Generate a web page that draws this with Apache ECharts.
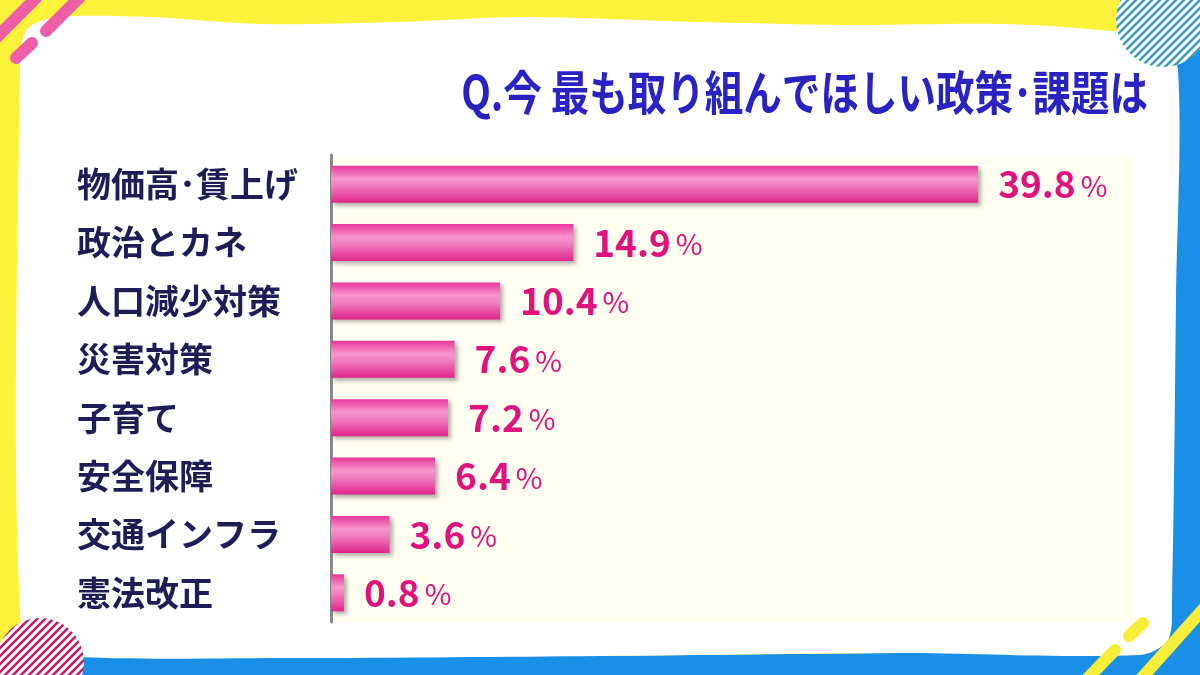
<!DOCTYPE html>
<html>
<head>
<meta charset="utf-8">
<script src="https://cdn.jsdelivr.net/npm/echarts@6/dist/echarts.min.js"></script>
<style>
html,body{margin:0;padding:0;background:#fff;}
#chart{width:1200px;height:675px;}
</style>
</head>
<body>
<div id="chart"></div>
<script>
const categories = ['物価高･賃上げ','政治とカネ','人口減少対策','災害対策','子育て','安全保障','交通インフラ','憲法改正'];
const values = [39.8, 14.9, 10.4, 7.6, 7.2, 6.4, 3.6, 0.8];
const titleText = 'Q.今 最も取り組んでほしい政策･課題は';

function stripePattern(color, bg) {
  const c = document.createElement('canvas');
  c.width = 8; c.height = 8;
  const g = c.getContext('2d');
  g.fillStyle = bg; g.fillRect(0,0,8,8);
  g.strokeStyle = color; g.lineWidth = 2.6;
  g.beginPath();
  g.moveTo(-2,10); g.lineTo(10,-2);
  g.moveTo(-2,2); g.lineTo(2,-2);
  g.moveTo(6,10); g.lineTo(10,6);
  g.stroke();
  return {image: c, repeat: 'repeat'};
}

const chart = echarts.init(document.getElementById('chart'), null, {renderer:'canvas'});
const font = '"Noto Sans CJK JP", "Noto Sans", sans-serif';

const option = {
  animation: false,
  backgroundColor: '#fdf23b',
  graphic: [
    {type:'polygon', z:-10, shape:{points:[[1120,50],[1200,50],[1200,675],[0,675],[0,650],[200,652],[600,656],[1000,652],[1120,650]]}, style:{fill:'#1a8fe6'}},
    {type:'polygon', z:-9, shape:{smooth:0.3, points:[
      [20,60],[28,28],[60,17],[150,17],[260,24],[400,22],[520,17],[700,22],[850,25],[1000,24],[1100,30],[1160,40],[1178,70],
      [1176,300],[1172,600],[1168,640],[1140,655],[900,653],[600,656],[300,658],[60,656],[22,640]
    ]}, style:{fill:'#ffffff'}},
    {type:'line', z:-5, shape:{x1:-4,y1:38,x2:36,y2:-2}, style:{stroke:'#ee5fa8', lineWidth:12, lineCap:'round'}},
    {type:'line', z:-5, shape:{x1:46,y1:31,x2:80,y2:-3}, style:{stroke:'#ee5fa8', lineWidth:12, lineCap:'round'}},
    {type:'line', z:-5, shape:{x1:16,y1:58,x2:32,y2:43}, style:{stroke:'#ee5fa8', lineWidth:12, lineCap:'round'}},
    {type:'circle', z:-4, shape:{cx:1163, cy:20, r:47}, style:{fill: stripePattern('#3aa0b8','#ffffff')}},
    {type:'circle', z:-4, shape:{cx:40, cy:662, r:44}, style:{fill: stripePattern('#c8186a','#ffffff')}},
    {type:'line', z:-5, shape:{x1:1143,y1:623,x2:1129,y2:636}, style:{stroke:'#f8ee3a', lineWidth:12, lineCap:'round'}},
    {type:'line', z:-5, shape:{x1:1115,y1:650,x2:1088,y2:678}, style:{stroke:'#f8ee3a', lineWidth:12, lineCap:'round'}},
    {type:'line', z:-5, shape:{x1:1206,y1:606,x2:1140,y2:680}, style:{stroke:'#f8ee3a', lineWidth:12, lineCap:'round'}},
    {type:'text', z:10, x:1148, y:92, scaleX:0.82, scaleY:1, style:{
      text: titleText, x:0, y:0, align:'right', verticalAlign:'middle',
      fill:'#2b22c4', font:'bold 47px ' + font,
      stroke:'#ffffff', lineWidth:3,
      shadowColor:'rgba(110,110,190,0.45)', shadowBlur:4, shadowOffsetX:3, shadowOffsetY:4
    }}
  ],
  grid: {left:331, top:155, width:800, height:467, show:true, backgroundColor:'#fffef1', borderWidth:0},
  xAxis: {type:'value', min:0, max:49.2, show:false},
  yAxis: {
    type:'category', data: categories, inverse:true,
    axisLine:{show:true, lineStyle:{color:'#8a8a8a', width:3}},
    axisTick:{show:false},
    axisLabel:{align:'left', margin:254, color:'#1f1d58', fontSize:34, fontWeight:'bold', fontFamily:font}
  },
  series: [{
    type:'bar', data: values, barWidth:37,
    itemStyle:{
      color: new echarts.graphic.LinearGradient(0,0,0,1,[
        {offset:0, color:'#e8379a'},
        {offset:0.35, color:'#f796cc'},
        {offset:0.55, color:'#f07cbd'},
        {offset:1, color:'#df2589'}
      ]),
      shadowColor:'rgba(0,0,0,0.3)', shadowBlur:4, shadowOffsetX:3, shadowOffsetY:3
    },
    label:{
      show:true, position:'right', distance:20,
      formatter: p => '{v|' + p.value.toFixed(1) + '}{p|%}',
      rich:{
        v:{color:'#e0137d', fontSize:37, fontWeight:'bold', fontFamily:font},
        p:{color:'#e0137d', fontSize:29, fontFamily:font, padding:[3,0,0,5]}
      }
    }
  }]
};
chart.setOption(option);
</script>
</body>
</html>
